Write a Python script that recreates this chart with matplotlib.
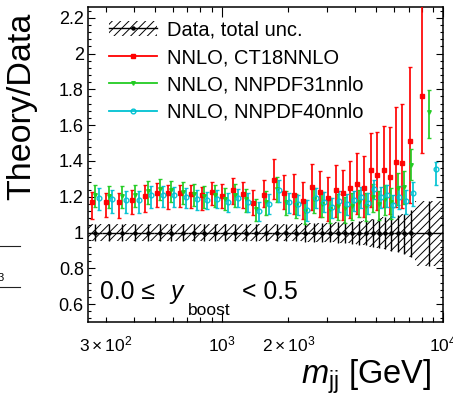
import numpy as np
import matplotlib
matplotlib.use("Agg")
import matplotlib.pyplot as plt
from matplotlib.lines import Line2D
from matplotlib.patches import Rectangle
from matplotlib.ticker import FixedLocator, FuncFormatter, MultipleLocator

plt.rcParams['font.family'] = ['Liberation Sans', 'DejaVu Sans']
plt.rcParams['mathtext.fontset'] = 'custom'
plt.rcParams['mathtext.rm'] = 'Liberation Sans'
plt.rcParams['mathtext.it'] = 'Liberation Sans:italic'
plt.rcParams['mathtext.bf'] = 'Liberation Sans:bold'
plt.rcParams['hatch.linewidth'] = 0.7

# dijet mass bin edges [GeV]
mjj_edges = [249, 289, 332, 381, 435, 494, 557, 628, 707, 792, 881, 982, 1094,
             1218, 1356, 1511, 1681, 1863, 2066, 2278, 2498, 2730, 2966, 3212,
             3472, 3750, 4034, 4337, 4650, 4971, 5318, 5673, 6032, 6442, 6931,
             7473, 10000]

# relative total uncertainty of the data
data_unc_up = [0.050, 0.049, 0.049, 0.049, 0.049, 0.049, 0.049, 0.049, 0.049,
               0.049, 0.049, 0.049, 0.049, 0.049, 0.049, 0.050, 0.050, 0.050,
               0.050, 0.051, 0.051, 0.052, 0.054, 0.056, 0.058, 0.060, 0.063,
               0.068, 0.075, 0.080, 0.087, 0.093, 0.100, 0.106, 0.125, 0.178]
data_unc_dn = [0.050, 0.049, 0.049, 0.049, 0.049, 0.049, 0.049, 0.049, 0.049,
               0.049, 0.049, 0.049, 0.049, 0.049, 0.049, 0.050, 0.050, 0.050,
               0.050, 0.051, 0.052, 0.053, 0.055, 0.057, 0.060, 0.063, 0.067,
               0.072, 0.079, 0.086, 0.094, 0.101, 0.110, 0.118, 0.137, 0.187]

# NNLO / data, CT18NNLO
ct18 = [1.171, 1.171, 1.171, 1.182, 1.205, 1.220, 1.218, 1.218, 1.216, 1.210,
        1.226, 1.205, 1.237, 1.214, 1.164, 1.210, 1.294, 1.220, 1.210, 1.175,
        1.255, 1.226, 1.194, 1.237, 1.222, 1.248, 1.272, 1.248, 1.350, 1.319,
        1.349, 1.309, 1.395, 1.388, 1.513, 1.763]
ct18_up = [0.056, 0.050, 0.047, 0.054, 0.060, 0.054, 0.046, 0.046, 0.050, 0.045,
           0.056, 0.068, 0.068, 0.066, 0.071, 0.082, 0.114, 0.100, 0.116, 0.105,
           0.127, 0.120, 0.117, 0.140, 0.130, 0.152, 0.170, 0.179, 0.207, 0.240,
           0.246, 0.280, 0.304, 0.330, 0.414, 0.600]
ct18_dn = [0.093, 0.085, 0.090, 0.080, 0.090, 0.076, 0.084, 0.075, 0.080, 0.085,
           0.075, 0.068, 0.080, 0.075, 0.066, 0.067, 0.104, 0.086, 0.104, 0.097,
           0.130, 0.138, 0.128, 0.149, 0.153, 0.165, 0.166, 0.161, 0.207, 0.194,
           0.205, 0.203, 0.252, 0.253, 0.350, 0.320]

# NNLO / data, NNPDF31nnlo
nnpdf31 = [1.210, 1.205, 1.205, 1.210, 1.230, 1.245, 1.235, 1.228, 1.215, 1.205,
           1.210, 1.190, 1.210, 1.185, 1.130, 1.170, 1.245, 1.170, 1.155, 1.120,
           1.185, 1.160, 1.130, 1.150, 1.135, 1.150, 1.170, 1.150, 1.200, 1.160,
           1.190, 1.170, 1.250, 1.255, 1.380, 1.672]
nnpdf31_up = [0.055, 0.055, 0.055, 0.055, 0.056, 0.056, 0.055, 0.055, 0.055, 0.055,
              0.058, 0.058, 0.060, 0.060, 0.060, 0.062, 0.065, 0.062, 0.062, 0.062,
              0.064, 0.064, 0.064, 0.066, 0.066, 0.068, 0.068, 0.070, 0.070, 0.072,
              0.075, 0.078, 0.085, 0.088, 0.084, 0.124]
nnpdf31_dn = [0.070, 0.070, 0.070, 0.068, 0.068, 0.066, 0.066, 0.066, 0.066, 0.066,
              0.066, 0.066, 0.068, 0.068, 0.068, 0.070, 0.072, 0.072, 0.074, 0.074,
              0.076, 0.076, 0.078, 0.080, 0.080, 0.082, 0.084, 0.086, 0.088, 0.090,
              0.092, 0.094, 0.096, 0.098, 0.084, 0.146]

# NNLO / data, NNPDF40nnlo
nnpdf40 = [1.194, 1.185, 1.182, 1.182, 1.207, 1.210, 1.207, 1.201, 1.190, 1.181,
           1.190, 1.168, 1.194, 1.168, 1.119, 1.162, 1.235, 1.168, 1.157, 1.125,
           1.194, 1.171, 1.140, 1.177, 1.160, 1.179, 1.198, 1.164, 1.244, 1.198,
           1.210, 1.154, 1.201, 1.175, 1.222, 1.354]
nnpdf40_up = [0.053, 0.052, 0.050, 0.052, 0.052, 0.050, 0.050, 0.050, 0.048, 0.046,
              0.048, 0.050, 0.050, 0.050, 0.052, 0.052, 0.058, 0.055, 0.055, 0.056,
              0.056, 0.056, 0.055, 0.056, 0.056, 0.055, 0.055, 0.056, 0.049, 0.055,
              0.058, 0.058, 0.060, 0.060, 0.062, 0.041]
nnpdf40_dn = [0.069, 0.078, 0.075, 0.072, 0.069, 0.068, 0.066, 0.065, 0.062, 0.052,
              0.055, 0.052, 0.050, 0.054, 0.054, 0.056, 0.063, 0.060, 0.060, 0.060,
              0.058, 0.056, 0.058, 0.060, 0.062, 0.060, 0.062, 0.062, 0.054, 0.062,
              0.065, 0.066, 0.068, 0.070, 0.072, 0.089]

legend_labels = ["Data, total unc.", "NNLO, CT18NNLO", "NNLO, NNPDF31nnlo",
                 "NNLO, NNPDF40nnlo"]

RED = "#ff0000"
GREEN = "#22cc22"
CYAN = "#00c2d2"

edges = np.array(mjj_edges, dtype=float)
lo, hi = edges[:-1], edges[1:]
log_lo, log_hi = np.log10(lo), np.log10(hi)
centers = 10 ** (0.5 * (log_lo + log_hi))
log_w = log_hi - log_lo


def shifted(frac):
    # horizontal displacement of a series inside each bin (fraction of log bin width)
    return 10 ** (np.log10(centers) + frac * log_w)


W, H = 453, 399
fig = plt.figure(figsize=(W / 100, H / 100), dpi=100)
ax = fig.add_axes([88 / W, 77 / H, 355 / W, 315 / H])
ax.set_xscale("log")
ax.set_xlim(edges[0], edges[-1])
ax.set_ylim(0.5, 2.26)

# hatched data uncertainty band
up = 1 + np.array(data_unc_up)
dn = 1 - np.array(data_unc_dn)
ax.fill_between(edges, np.append(dn, dn[-1]), np.append(up, up[-1]), step="post",
                facecolor="none", edgecolor="black", hatch="////", linewidth=0,
                zorder=1)

# data points at unity
ones = np.ones_like(centers)
ax.errorbar(centers, ones, xerr=[centers - lo, hi - centers],
            yerr=[data_unc_dn, data_unc_up], fmt="o", color="black", ms=2.2,
            elinewidth=1.0, capsize=0, zorder=2)

series = [
    (ct18, ct18_dn, ct18_up, -0.255, RED, "s", 3.0, RED),
    (nnpdf31, nnpdf31_dn, nnpdf31_up, 0.0, GREEN, "v", 2.6, GREEN),
    (nnpdf40, nnpdf40_dn, nnpdf40_up, 0.255, CYAN, "o", 3.4, "none"),
]
for vals, edn, eup, frac, col, mk, ms, mfc in series:
    ax.errorbar(shifted(frac), vals, yerr=[edn, eup], fmt=mk, color=col, ms=ms,
                mfc=mfc, mec=col, mew=1.0, elinewidth=1.3, ecolor=col, alpha=0.95,
                capsize=1.2, capthick=1.0, zorder=3)

# axes styling
for sp in ax.spines.values():
    sp.set_linewidth(1.1)
ax.xaxis.set_major_locator(FixedLocator([1e3, 1e4]))
ax.xaxis.set_minor_locator(FixedLocator([300, 400, 500, 600, 700, 800, 900,
                                         2000, 3000, 4000, 5000, 6000, 7000,
                                         8000, 9000]))
major_x_labels = {1000: r"$10^{3}$", 10000: r"$10^{4}$"}
minor_x_labels = {300: r"$3\times10^{2}$", 2000: r"$2\times10^{3}$"}
ax.xaxis.set_major_formatter(FuncFormatter(lambda v, p: major_x_labels.get(int(round(v)), "")))
ax.xaxis.set_minor_formatter(FuncFormatter(lambda v, p: minor_x_labels.get(int(round(v)), "")))
ax.yaxis.set_major_locator(MultipleLocator(0.2))
ax.yaxis.set_minor_locator(MultipleLocator(0.04))
ax.yaxis.set_major_formatter(FuncFormatter(lambda v, p: "%g" % round(v, 2)))

ax.tick_params(axis="both", which="both", direction="in", top=True, right=True,
               width=0.8)
ax.tick_params(axis="x", which="both", labelsize=12.5)
ax.tick_params(axis="y", which="both", labelsize=13)
ax.tick_params(axis="x", which="major", length=7, pad=9)
ax.tick_params(axis="x", which="minor", length=3.6, pad=9)
ax.tick_params(axis="y", which="major", length=4.8, pad=3)
ax.tick_params(axis="y", which="minor", length=2.4)

# legend
band_patch = Rectangle((0, 0), 1, 1, facecolor="none", edgecolor="black",
                       hatch="////", linewidth=0)
data_line = Line2D([], [], color="black", marker="o", ms=2.2, lw=1.0)
h_ct18 = Line2D([], [], color=RED, marker="s", ms=3.0, lw=1.3)
h_n31 = Line2D([], [], color=GREEN, marker="v", ms=2.6, lw=1.3)
h_n40 = Line2D([], [], color=CYAN, marker="o", ms=3.4, mfc="none", mew=1.0, lw=1.3)
ax.legend([(band_patch, data_line), h_ct18, h_n31, h_n40], legend_labels,
          loc="upper left", bbox_to_anchor=(0.059, 0.957), frameon=False,
          fontsize=14.5, borderpad=0, borderaxespad=0, handlelength=2.39,
          handletextpad=0.48, labelspacing=0.42)

# axis titles
fig.text(22 / W, 1 - 13 / H, "Theory/Data", rotation=90, ha="center", va="top",
         fontsize=24.5)
fig.text(431 / W, 1 - 384 / H, r"$m_{\mathrm{jj}}$ [GeV]", ha="right",
         va="baseline", fontsize=23.5)

# rapidity bin annotation
base = 1 - 299 / H
fig.text(100 / W, base, "0.0 \u2264 ", ha="left", va="baseline", fontsize=17.8)
fig.text(170 / W, base, "y", ha="left", va="baseline", fontsize=17.8, style="italic")
fig.text(188 / W, 1 - 315 / H, "boost", ha="left", va="baseline", fontsize=12.5)
fig.text(241.7 / W, base, "< 0.5", ha="left", va="baseline", fontsize=17.8)

# fragment of the neighbouring panel at the left margin
for yy in (245.7, 287.3):
    fig.add_artist(Line2D([0, 20 / W], [1 - yy / H, 1 - yy / H], color="#222222",
                          lw=0.8, transform=fig.transFigure))
fig.text(4 / W, 1 - 281 / H, "3", ha="right", va="baseline", fontsize=8)

fig.savefig("out.png", dpi=100)
